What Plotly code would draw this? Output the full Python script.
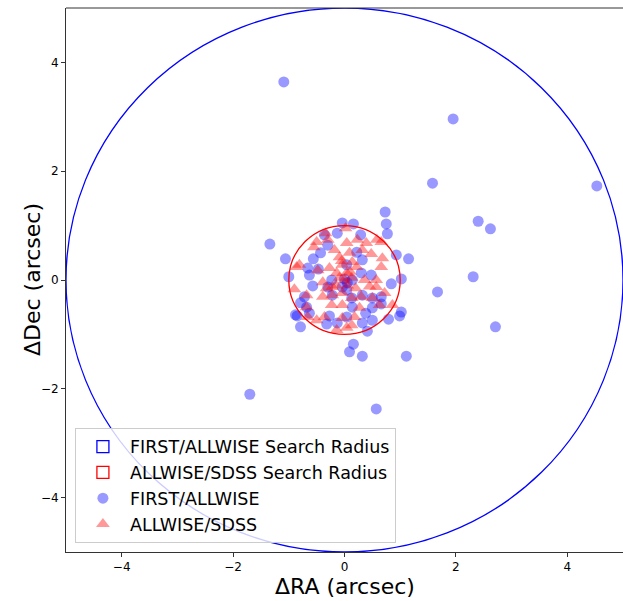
import plotly.graph_objects as go

# Search radii (arcsec)
radius_names = ["FIRST/ALLWISE Search Radius", "ALLWISE/SDSS Search Radius"]
radius_values = [5.0, 1.0]
radius_colors = ["blue", "red"]

# FIRST/ALLWISE offsets (arcsec)
first_ra = [-1.09, 1.95, 4.53, 1.58, 2.40, 2.62, 2.31, 1.67, 2.71, -1.34, -1.70, 0.57,
            1.11, 0.16, 0.09, 0.32, 0.73, 0.75, 0.77, -0.04, 0.16, -1.06, 1.15, 0.93,
            -1.00, 1.02, 0.84, -0.88, -0.79, 1.02, 0.99, 0.79, 0.41, 0.50, 0.32, -0.13,
            -0.32, -0.27, -0.63, -0.68, -0.79, -0.72, -0.57, -0.63, -0.66, -0.47, -0.56,
            -0.43, -0.30, -0.36, -0.13, 0.29, 0.22, 0.32, 0.04, 0.30, 0.48, 0.14, -0.23,
            -0.30, -0.04, 0.04, -0.22, 0.13, 0.32, 0.50, 0.66, 0.14, 0.50, 0.38, 0.04,
            0.66, -0.85, 0.00, 0.05]
first_dec = [3.64, 2.96, 1.73, 1.78, 1.08, 0.94, 0.06, -0.22, -0.86, 0.66, -2.10, -2.37,
             -1.40, -1.18, -1.32, -1.40, 1.25, 1.03, 0.85, 1.05, 1.03, 0.39, 0.39, 0.46,
             0.06, 0.02, -0.07, -0.64, -0.86, -0.59, -0.66, -0.72, -0.94, -0.74, -0.79, -0.79,
             -0.81, -0.66, -0.61, -0.50, -0.42, -0.31, -0.11, 0.09, 0.22, 0.20, 0.39,
             0.50, 0.64, 0.83, 0.86, 0.83, 0.51, 0.37, 0.28, 0.13, 0.09, 0.00, 0.00,
             -0.13, -0.13, -0.18, -0.28, -0.33, -0.28, -0.33, -0.31, -0.50, -0.51, -0.61, -0.68,
             -0.44, -0.66, 0.02, -0.05]

# ALLWISE/SDSS offsets (arcsec)
sdss_ra = [-0.50, -0.34, -0.30, -0.18, 0.04, 0.23, 0.39, 0.32, 0.66, 0.48, 0.68, 0.66,
           -0.09, 0.09, 0.14, -0.04, 0.22, -0.81, -0.86, -0.48, -0.27, -0.14, 0.04, -0.09,
           0.13, 0.36, 0.57, 0.57, -0.39, -0.32, -0.22, -0.90, -0.68, -0.39, -0.22, -0.04,
           0.13, 0.30, 0.50, 0.72, 0.63, 0.86, -0.23, -0.04, -0.68, -0.66, -0.50, -0.36,
           -0.04, 0.18, 0.27, -0.14, 0.04, 0.13, 0.00, 0.05, 0.10, -0.05, 0.20, -0.15,
           0.58, 0.45, -0.55, 0.02]
sdss_dec = [0.70, 0.86, 0.74, 0.55, 0.68, 0.74, 0.68, 0.55, 0.70, 0.48, 0.40, 0.24,
            0.42, 0.50, 0.33, 0.28, 0.24, 0.28, 0.24, 0.18, 0.22, 0.13, 0.13, 0.04,
            0.04, 0.00, 0.00, -0.13, -0.04, -0.15, -0.13, -0.17, -0.28, -0.31, -0.28, -0.24,
            -0.33, -0.31, -0.33, -0.24, -0.46, -0.46, -0.46, -0.46, -0.50, -0.68, -0.74, -0.68,
            -0.70, -0.68, -0.51, -0.92, -0.88, -0.83, 0.00, -0.10, 0.15, 0.35, -0.15, -0.10,
            0.74, -0.12, 0.60, 0.95]

x_ticks = [-4, -2, 0, 2, 4]
y_ticks = [-4, -2, 0, 2, 4]

fig = go.Figure()

for i, (name, r, c) in enumerate(zip(radius_names, radius_values, radius_colors)):
    # the search-radius circle itself
    fig.add_shape(type="circle", xref="x", yref="y", x0=-r, x1=r, y0=-r, y1=r,
                  line=dict(color=c, width=1.3), fillcolor="rgba(0,0,0,0)",
                  layer="above")
    # legend entry with a rectangular patch icon (shape placed outside the axis range)
    fig.add_shape(type="rect", xref="x", yref="y", x0=100, x1=101, y0=100, y1=101,
                  line=dict(color=c, width=1.3), fillcolor="rgba(0,0,0,0)",
                  showlegend=True, name=name, legendrank=i + 1)

fig.add_trace(go.Scatter(
    x=first_ra, y=first_dec, mode="markers", name="FIRST/ALLWISE", legendrank=10,
    hoverinfo="skip",
    marker=dict(symbol="circle", size=11, color="rgba(0,0,255,0.4)", line=dict(width=0))))
fig.add_trace(go.Scatter(
    x=sdss_ra, y=sdss_dec, mode="markers", name="ALLWISE/SDSS", legendrank=11,
    hoverinfo="skip",
    marker=dict(symbol="triangle-up", size=12, color="rgba(255,0,0,0.4)", line=dict(width=0))))

axis_common = dict(
    showgrid=False, zeroline=False, showline=True, linecolor="#333", linewidth=1,
    mirror=False, ticks="outside", ticklen=4, tickwidth=1, tickcolor="#333",
    automargin=False,
    tickfont=dict(family="DejaVu Sans", size=12, color="black"))

fig.update_xaxes(range=[-5, 5], tickvals=x_ticks, **axis_common)
fig.update_yaxes(range=[-5, 5], tickvals=y_ticks, **axis_common)

# top spine
fig.add_shape(type="line", xref="paper", yref="paper", x0=0, x1=1, y0=1, y1=1,
              line=dict(color="#333", width=1))

fig.add_annotation(text="ΔRA (arcsec)", xref="paper", yref="paper", x=0.5, y=0,
                   xanchor="center", yanchor="middle", yshift=-34, showarrow=False,
                   font=dict(family="DejaVu Sans", size=22, color="black"))
fig.add_annotation(text="ΔDec (arcsec)", xref="paper", yref="paper", x=0, y=0.5,
                   xanchor="center", yanchor="middle", xshift=-34, textangle=-90,
                   showarrow=False, font=dict(family="DejaVu Sans", size=22, color="black"))

fig.update_layout(
    width=623, height=601,
    margin=dict(l=66, r=0, t=8, b=49),
    plot_bgcolor="white", paper_bgcolor="white",
    font=dict(family="DejaVu Sans"),
    legend=dict(x=0.016, y=0.017, xanchor="left", yanchor="bottom",
                bgcolor="rgba(255,255,255,0.8)", bordercolor="#ccc", borderwidth=1,
                itemwidth=44, tracegroupgap=0,
                font=dict(family="DejaVu Sans", size=17.5, color="black")),
    showlegend=True,
)

fig.write_html("out.html", config={"displayModeBar": False, "staticPlot": False},
               post_script="document.body.style.margin='0';document.body.style.overflow='hidden';")
